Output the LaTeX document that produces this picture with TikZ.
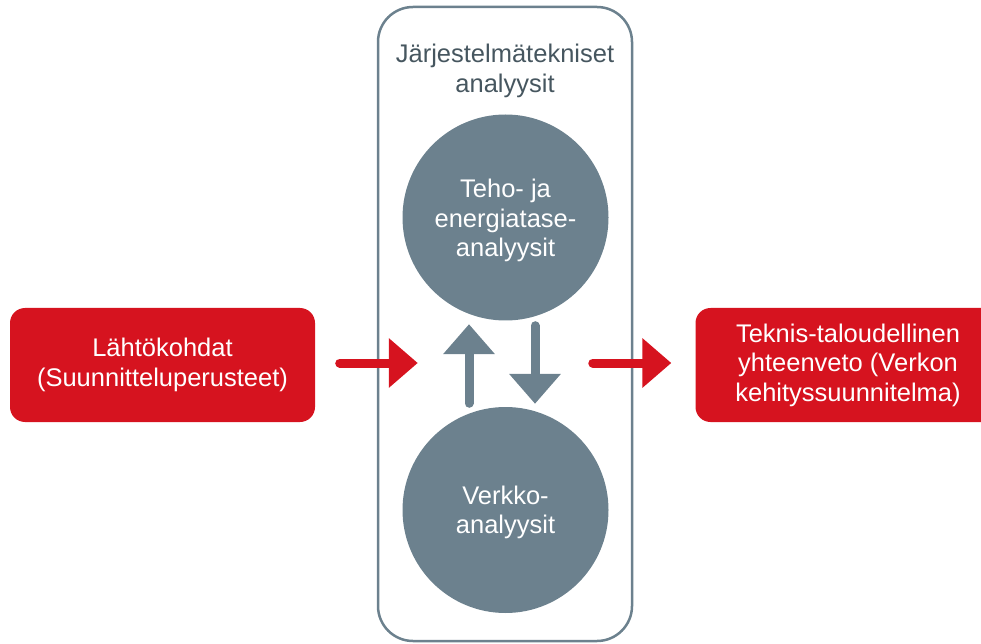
\documentclass[tikz,border=0pt]{standalone}
\usepackage{fontspec}
\setmainfont{Liberation Sans}
\usetikzlibrary{arrows.meta,calc}
\definecolor{ktred}{HTML}{D6131F}
\definecolor{ktgrey}{HTML}{6C818E}
\definecolor{kttitle}{HTML}{46565F}
\begin{document}
\begin{tikzpicture}[x=1pt,y=1pt,
  txt/.style={font=\fontsize{25.5}{29.5}\selectfont, align=center},
  redbox/.style={txt, fill=ktred, text=white, rounded corners=15pt, minimum width=305pt, minimum height=114pt, inner sep=0pt},
  bubble/.style={circle, fill=ktgrey, minimum size=206pt, inner sep=0pt},
  bubbletext/.style={txt, text=white, inner sep=0pt},
  frame/.style={draw=ktgrey, line width=2.5pt, rounded corners=35pt, minimum width=254pt, minimum height=634pt, inner sep=0pt},
  redarrow/.style={draw=ktred, line width=9pt, line cap=round, -{Triangle[length=29pt,width=48pt]}},
  greyarrow/.style={draw=ktgrey, line width=9pt, line cap=round, -{Triangle[length=30pt,width=50pt]}}
]
\useasboundingbox (0,0) rectangle (981,643);
\clip (0,0) rectangle (981,643);
\node[frame] (cont) at (505,319) {};
\node[txt, text=kttitle, inner sep=0pt] (title) at (505,572) {Järjestelmätekniset\\analyysit};
\node[bubble] (tc) at (505.5,425.5) {};
\node[bubbletext] (tct) at ($(tc.center)+(0,-3)$) {Teho- ja\\energiatase-\\analyysit};
\node[bubble] (bc) at (505.5,133) {};
\node[bubbletext] (bct) at ($(bc.center)+(0,-2.5)$) {Verkko-\\analyysit};
\node[redbox] (lb) at (162.5,278) {Lähtökohdat\\(Suunnitteluperusteet)};
\node[redbox] (rb) at (848,278) {Teknis-taloudellinen\\yhteenveto (Verkon\\kehityssuunnitelma)};
\draw[redarrow] ($(lb.east)+(24.5,2)$) -- ($(cont.west)+(41,-39)$);
\draw[redarrow] ($(cont.east)+(-40.5,-39)$) -- ($(rb.west)+(-24,2)$);
\draw[greyarrow] ($(bc.north)+(-36.5,3.5)$) -- ($(tc.south)+(-36.5,-3.5)$);
\draw[greyarrow] ($(tc.south)+(29.5,-5)$) -- ($(bc.north)+(29.5,3)$);
\end{tikzpicture}
\end{document}
